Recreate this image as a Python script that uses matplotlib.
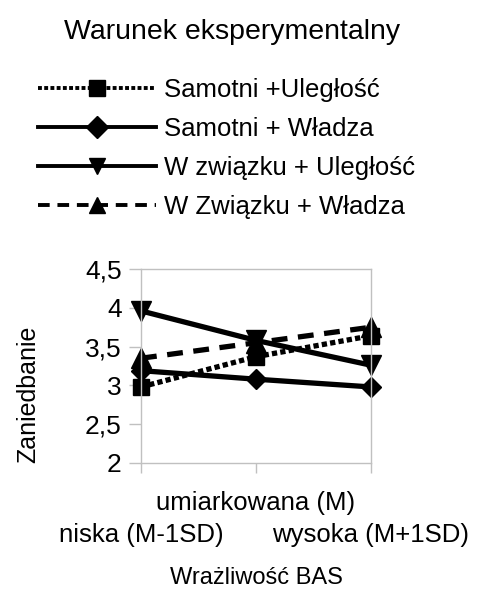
import matplotlib.pyplot as plt

plt.rcParams['font.family'] = ['Liberation Sans', 'DejaVu Sans']

categories = ["niska (M-1SD)", "umiarkowana (M)", "wysoka (M+1SD)"]
samotni_ulegl = [2.98, 3.37, 3.64]
samotni_wladza = [3.19, 3.08, 2.98]
zwiazek_ulegl = [3.96, 3.58, 3.26]
zwiazek_wladza = [3.35, 3.55, 3.75]
yticks = [2, 2.5, 3, 3.5, 4, 4.5]
ytick_labels = ["2", "2,5", "3", "3,5", "4", "4,5"]

fig = plt.figure(figsize=(4.85, 5.94), dpi=100)
ax = fig.add_axes([141 / 485, 1 - 463 / 594, 230 / 485, 194 / 594])

x = range(len(categories))
l1, = ax.plot(x, samotni_ulegl, color="black", lw=3.8, ls=(0, (1, 0.6)), marker="s", ms=12,
              label="Samotni +Uległość")
l2, = ax.plot(x, samotni_wladza, color="black", lw=3.8, ls="-", marker="D", ms=10,
              label="Samotni + Władza")
l3, = ax.plot(x, zwiazek_ulegl, color="black", lw=3.8, ls="-", marker="v", ms=14,
              label="W związku + Uległość")
l4, = ax.plot(x, zwiazek_wladza, color="black", lw=3.8, ls=(0, (3, 2)), marker="^", ms=14,
              label="W Związku + Władza")

ax.set_xlim(0, 2)
ax.set_ylim(2, 4.5)
ax.set_yticks(yticks)
ax.set_yticklabels(ytick_labels, fontsize=19)
ax.set_xticks(list(x))
ax.set_xticklabels(categories, fontsize=18.5)
ax.tick_params(axis="both", color="#c0c0c0", width=1)
ax.tick_params(axis="x", length=7)
ax.tick_params(axis="y", length=9, pad=5)
pads = [36, 13, 36]
for t, p in zip(ax.xaxis.get_major_ticks(), pads):
    t.set_pad(p)
for s in ax.spines.values():
    s.set_color("#c0c0c0")
    s.set_linewidth(1)
for l in ax.get_lines():
    l.set_clip_on(False)

ax.set_ylabel("Zaniedbanie", fontsize=18)
ax.yaxis.set_label_coords(-0.44, 0.355)
ax.set_xlabel("Wrażliwość BAS", fontsize=17)
ax.xaxis.set_label_coords(0.5, -0.535)

fig.text(232 / 485, 1 - 32 / 594, "Warunek eksperymentalny", fontsize=20.5, ha="center", va="center")

leg = fig.legend(handles=[l1, l2, l3, l4], loc="upper left", bbox_to_anchor=(15 / 485, 1 - 55 / 594),
                 frameon=False, fontsize=18.5, handlelength=4.6, handletextpad=0.3, labelspacing=0.58)
for h in leg.legend_handles:
    h.set_linewidth(2.8)
    h.set_markersize(11)

fig.savefig("out.png", dpi=100)
